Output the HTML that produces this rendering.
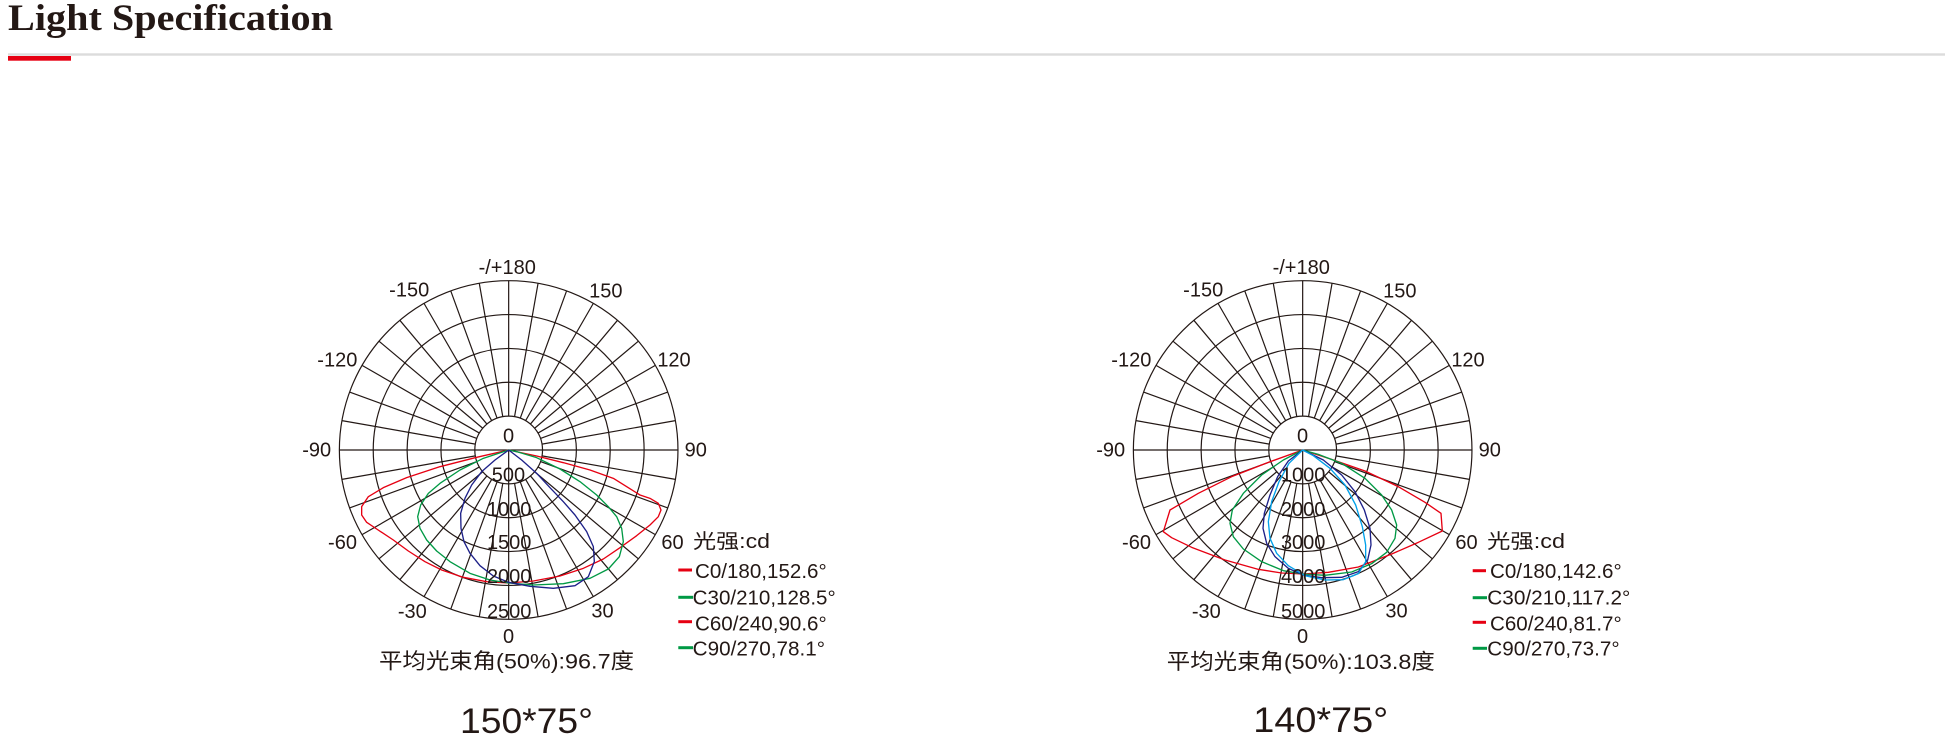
<!DOCTYPE html>
<html>
<head>
<meta charset="utf-8">
<style>
  html, body { margin: 0; padding: 0; background: #ffffff; }
  body { width: 1945px; height: 749px; overflow: hidden; }
  svg { display: block; }
  .t { font-family: "Liberation Sans", "Noto Sans CJK SC", sans-serif; fill: #231815; }
</style>
</head>
<body>
<svg width="1945" height="749" viewBox="0 0 1945 749" xmlns="http://www.w3.org/2000/svg">
  <defs>
    <g id="quad">
      <path d="M5.88,33.35L29.40,166.73 M11.58,31.82L57.90,159.09 M16.93,29.32L84.65,146.62 M21.76,25.94L108.82,129.69 M25.94,21.76L129.69,108.82 M29.32,16.93L146.62,84.65 M31.82,11.58L159.09,57.90 M33.35,5.88L166.73,29.40"/>
    </g>
    <g id="grid" fill="none" stroke="#231815" stroke-width="1.2">
      <circle r="33.86"/>
      <circle r="67.72"/>
      <circle r="101.58"/>
      <circle r="135.44"/>
      <circle r="169.3"/>
      <use href="#quad"/>
      <use href="#quad" transform="scale(-1,1)"/>
      <use href="#quad" transform="scale(1,-1)"/>
      <use href="#quad" transform="scale(-1,-1)"/>
      <path d="M-169.3,0H169.3 M0,-169.3V-33.86 M0,0V169.3"/>
    </g>
  </defs>

  <!-- Header -->
  <text x="8" y="30" font-family="Liberation Serif, serif" font-weight="bold" font-size="37" fill="#231815" textLength="325" lengthAdjust="spacingAndGlyphs">Light Specification</text>
  <rect x="8" y="53.3" width="1937" height="2.4" fill="#dcdcdc"/>
  <rect x="8" y="56" width="63" height="4.7" fill="#e60012"/>

  <!-- ================= Chart 1 ================= -->
  <use href="#grid" transform="translate(508.67,450)"/>

  <g fill="none" stroke-width="4" stroke-linejoin="round" transform="translate(330,445) scale(0.333333)">
    <polyline stroke="#e60012" points="536,15 440,37 330,65 230,98 160,128 115,155 95,185 95,210 110,232 140,252 190,285 235,318 285,350 335,375 400,397 470,410 536,414 610,408 690,393 760,370 820,342 870,308 920,272 960,240 985,215 993,195 985,175 960,160 930,150 895,128 850,100 780,75 700,53 620,33 536,15"/>
    <polyline stroke="#009944" points="536,15 460,40 390,75 330,115 295,145 272,180 263,215 270,250 290,285 320,318 360,350 420,385 480,405 536,414 610,420 700,416 780,400 835,372 868,335 880,290 875,250 860,215 835,185 800,150 750,110 690,72 620,38 560,20 536,15"/>
    <polyline stroke="#1d2088" points="536,15 495,45 455,80 425,120 405,160 392,205 393,250 402,290 420,325 450,362 490,393 536,412 600,424 670,430 735,422 775,395 793,350 790,305 770,260 735,210 700,170 660,128 620,85 575,45 536,15"/>
  </g>

  <g class="t" font-size="20" text-anchor="middle">
    <text x="507.2" y="274">-/+180</text>
    <text x="409.2" y="296.5">-150</text>
    <text x="605.8" y="297.5">150</text>
    <text x="337.3" y="366.5">-120</text>
    <text x="674" y="366.5">120</text>
    <text x="316.7" y="456.5">-90</text>
    <text x="695.8" y="456.5">90</text>
    <text x="342.5" y="549">-60</text>
    <text x="672.5" y="549">60</text>
    <text x="412.3" y="618">-30</text>
    <text x="602.5" y="617.5">30</text>
    <text x="508.6" y="643">0</text>
    <text x="508.6" y="442.5">0</text>
    <text x="508.4" y="481.5">500</text>
    <text x="509.2" y="516">1000</text>
    <text x="509.2" y="549">1500</text>
    <text x="509.2" y="583">2000</text>
    <text x="509.2" y="618">2500</text>
  </g>

  <g class="t" font-size="20">
    <text x="693" y="548" textLength="77" lengthAdjust="spacingAndGlyphs">光强:cd</text>
    <text x="695" y="578" textLength="131.7" lengthAdjust="spacingAndGlyphs">C0/180,152.6°</text>
    <text x="692.7" y="604.5" textLength="143" lengthAdjust="spacingAndGlyphs">C30/210,128.5°</text>
    <text x="695" y="630.5" textLength="131.7" lengthAdjust="spacingAndGlyphs">C60/240,90.6°</text>
    <text x="692.7" y="655.5" textLength="132.3" lengthAdjust="spacingAndGlyphs">C90/270,78.1°</text>
  </g>
  <g stroke-width="3">
    <line x1="678.3" y1="570" x2="692" y2="570" stroke="#e60012"/>
    <line x1="678.3" y1="597.3" x2="693" y2="597.3" stroke="#009944"/>
    <line x1="678.3" y1="621.7" x2="692" y2="621.7" stroke="#e60012"/>
    <line x1="678.3" y1="647.7" x2="693" y2="647.7" stroke="#009944"/>
  </g>

  <text class="t" x="506.5" y="668.5" font-size="21.5" text-anchor="middle" textLength="255" lengthAdjust="spacingAndGlyphs">平均光束角(50%):96.7度</text>
  <text class="t" x="526.5" y="733" font-size="35" text-anchor="middle" textLength="133" lengthAdjust="spacingAndGlyphs">150*75°</text>

  <!-- ================= Chart 2 ================= -->
  <use href="#grid" transform="translate(1302.67,450)"/>

  <g fill="none" stroke-width="4" stroke-linejoin="round" transform="translate(1125,445) scale(0.333333)">
    <polyline stroke="#e60012" points="533,15 430,52 320,95 220,145 135,195 115,260 140,278 200,307 300,345 400,373 470,384 533,387 610,382 700,366 800,327 880,292 952,258 948,205 900,172 820,125 720,78 620,43 533,15"/>
    <polyline stroke="#009944" points="533,15 475,45 410,90 355,145 322,195 315,235 325,275 355,312 410,350 475,377 533,387 600,391 680,381 740,356 785,322 810,280 815,240 800,195 770,150 720,100 650,55 580,28 533,15"/>
    <polyline stroke="#1d2088" points="533,15 490,48 458,95 435,150 418,205 414,250 425,295 450,335 490,370 535,390 590,398 650,397 700,380 728,345 738,300 735,250 718,195 690,140 650,90 595,45 533,15"/>
    <polyline stroke="#00a0e9" points="533,15 492,55 462,110 440,170 430,230 435,280 455,325 490,362 540,392 600,405 655,404 700,386 722,350 722,300 712,245 692,180 660,120 615,70 565,32 533,15"/>
  </g>

  <g class="t" font-size="20" text-anchor="middle">
    <text x="1301.2" y="274">-/+180</text>
    <text x="1203.2" y="296.5">-150</text>
    <text x="1399.8" y="297.5">150</text>
    <text x="1131.3" y="366.5">-120</text>
    <text x="1468" y="366.5">120</text>
    <text x="1110.7" y="456.5">-90</text>
    <text x="1489.8" y="456.5">90</text>
    <text x="1136.5" y="549">-60</text>
    <text x="1466.5" y="549">60</text>
    <text x="1206.3" y="618">-30</text>
    <text x="1396.5" y="617.5">30</text>
    <text x="1302.6" y="643">0</text>
    <text x="1302.6" y="442.5">0</text>
    <text x="1303.2" y="481.5">1000</text>
    <text x="1303.2" y="516">2000</text>
    <text x="1303.2" y="549">3000</text>
    <text x="1303.2" y="583">4000</text>
    <text x="1303.2" y="618">5000</text>
  </g>

  <g class="t" font-size="20">
    <text x="1487" y="548" textLength="78" lengthAdjust="spacingAndGlyphs">光强:cd</text>
    <text x="1490" y="578" textLength="131.7" lengthAdjust="spacingAndGlyphs">C0/180,142.6°</text>
    <text x="1487.3" y="604.5" textLength="143" lengthAdjust="spacingAndGlyphs">C30/210,117.2°</text>
    <text x="1490" y="630.5" textLength="131.7" lengthAdjust="spacingAndGlyphs">C60/240,81.7°</text>
    <text x="1487.3" y="655.5" textLength="132.3" lengthAdjust="spacingAndGlyphs">C90/270,73.7°</text>
  </g>
  <g stroke-width="3">
    <line x1="1472.7" y1="570.7" x2="1486" y2="570.7" stroke="#e60012"/>
    <line x1="1472.7" y1="597.7" x2="1487" y2="597.7" stroke="#009944"/>
    <line x1="1472.7" y1="622.3" x2="1486" y2="622.3" stroke="#e60012"/>
    <line x1="1472.7" y1="648.3" x2="1487" y2="648.3" stroke="#009944"/>
  </g>

  <text class="t" x="1300.8" y="669" font-size="21.5" text-anchor="middle" textLength="268" lengthAdjust="spacingAndGlyphs">平均光束角(50%):103.8度</text>
  <text class="t" x="1320.8" y="732" font-size="35" text-anchor="middle" textLength="135" lengthAdjust="spacingAndGlyphs">140*75°</text>
</svg>
</body>
</html>
